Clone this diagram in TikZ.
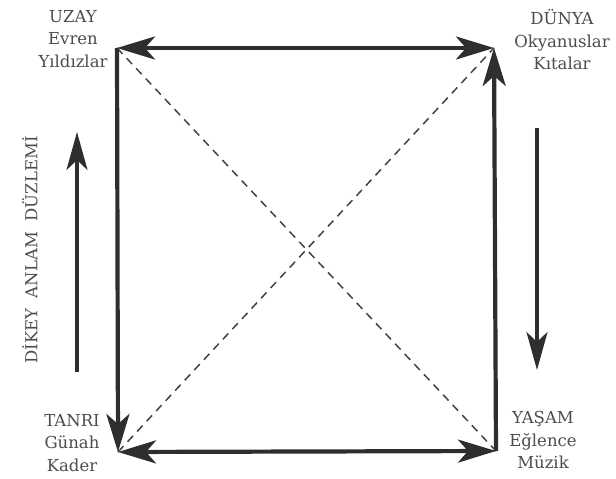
\documentclass[tikz,border=0pt]{standalone}
\usepackage{fontspec}
\setmainfont{DejaVu Serif}
\usetikzlibrary{arrows.meta}
\definecolor{linec}{HTML}{2E2E30}
\definecolor{textc}{HTML}{4C4C4C}
\tikzset{
  lbl/.style={text=textc, font=\fontsize{16.5}{22.5}\selectfont, align=center, inner sep=0pt},
  edge/.style={draw=linec, line width=4.2pt},
  tipb/.tip={Stealth[length=38pt,width=23pt,inset=10pt]},
  side/.style={draw=linec, line width=3.5pt, -{Stealth[length=38pt,width=21pt,inset=10pt]}},
  diag/.style={draw=linec!90, line width=1.5pt, dash pattern=on 8pt off 6pt}
}
\begin{document}
\begin{tikzpicture}[x=1pt,y=-1pt]
\useasboundingbox (0,0) rectangle (616,479);
\coordinate (TL) at (117,48);
\coordinate (TR) at (494,48);
\coordinate (BL) at (118,452);
\coordinate (BR) at (496,451);
% diagonals
\draw[diag] (TL) -- (BR);
\draw[diag] (BL) -- (TR);
% edges
\draw[edge, tipb-tipb] (TL) -- (TR);
\draw[edge, tipb-tipb] (BL) -- (BR);
\draw[edge, -tipb] (TL) -- (BL);
\draw[edge, -tipb] (BR) -- (TR);
% side arrows
\coordinate (LA1) at (77,372);
\coordinate (LA2) at (77,132);
\coordinate (RA1) at (537,128);
\coordinate (RA2) at (537,370);
\draw[side] (LA1) -- (LA2);
\draw[side] (RA1) -- (RA2);
% labels
\node[lbl] (uzay) at (73,39) {UZAY\\Evren\\Yıldızlar};
\node[lbl] (dunya) at (562,40) {DÜNYA\\Okyanuslar\\Kıtalar};
\node[lbl] (tanri) at (72,443) {TANRI\\Günah\\Kader};
\node[lbl] (yasam) at (543,440) {YAŞAM\\Eğlence\\Müzik};
\node[lbl, rotate=90] (dikey) at (30,250) {DİKEY\ \ ANLAM\ \ DÜZLEMİ};
\end{tikzpicture}
\end{document}
